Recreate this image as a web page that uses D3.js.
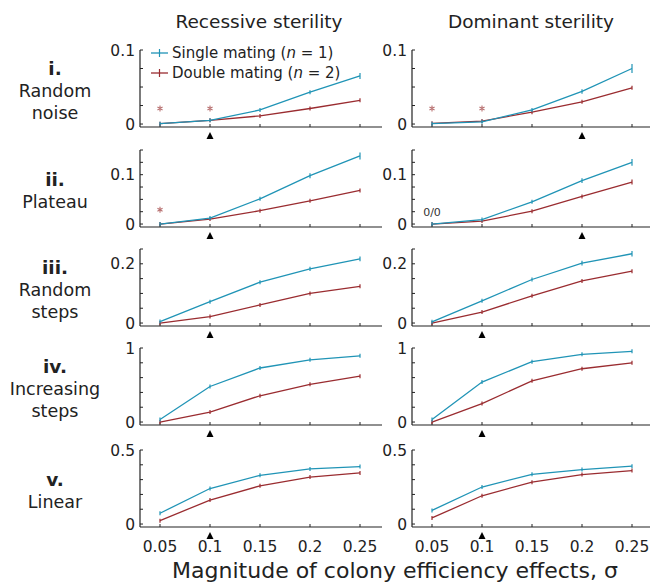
<!DOCTYPE html>
<html>
<head>
<meta charset="utf-8">
<script src="https://cdn.jsdelivr.net/npm/d3@7"></script>
<style>
  html, body { margin: 0; padding: 0; background: #fff; }
  svg { display: block; font-family: "DejaVu Sans", sans-serif; }
</style>
</head>
<body>
<svg id="chart" width="650" height="582"></svg>
<script>
// x values (magnitude of colony efficiency effects)
const sigma = [0.05, 0.1, 0.15, 0.2, 0.25]
const xTickLabels = ['0.05', '0.1', '0.15', '0.2', '0.25']

const colTitles = ['Recessive sterility', 'Dominant sterility']
const rowNumerals = ['i.', 'ii.', 'iii.', 'iv.', 'v.']
const rowNames = [['Random', 'noise'], ['Plateau'], ['Random', 'steps'], ['Increasing', 'steps'], ['Linear']]

// y axes per row
const yMax = [0.1, 0.15, 0.25, 1, 0.5]
const yStep = [0.025, 0.025, 0.05, 0.2, 0.1]
const yLabelled = [[0, 0.1], [0, 0.1], [0, 0.2], [0, 1], [0, 0.5]]

// recessive sterility (left column), one array per row
const singleRecessive = [
  [0.0005, 0.005, 0.019, 0.043, 0.065],
  [0.0, 0.012, 0.051, 0.098, 0.138],
  [0.005, 0.072, 0.138, 0.183, 0.217],
  [0.035, 0.48, 0.73, 0.84, 0.895],
  [0.073, 0.24, 0.329, 0.372, 0.388]
]
const doubleRecessive = [
  [0.0005, 0.005, 0.011, 0.021, 0.032],
  [0.0, 0.010, 0.027, 0.047, 0.068],
  [0.0, 0.022, 0.061, 0.1, 0.124],
  [0.0, 0.135, 0.355, 0.51, 0.62],
  [0.023, 0.162, 0.258, 0.317, 0.345]
]
const singleRecessiveErr = [
  [0.0004, 0.0008, 0.0015, 0.002, 0.004],
  [0.0004, 0.001, 0.003, 0.005, 0.007],
  [0.002, 0.004, 0.006, 0.007, 0.008],
  [0.005, 0.008, 0.008, 0.008, 0.008],
  [0.004, 0.006, 0.008, 0.008, 0.009]
]
const doubleRecessiveErr = [
  [0.0003, 0.0004, 0.0007, 0.001, 0.0012],
  [0.0003, 0.001, 0.0015, 0.002, 0.003],
  [0.001, 0.002, 0.003, 0.004, 0.005],
  [0.004, 0.006, 0.008, 0.008, 0.008],
  [0.003, 0.005, 0.006, 0.007, 0.008]
]

// dominant sterility (right column)
const singleDominant = [
  [0.0005, 0.003, 0.019, 0.044, 0.075],
  [0.0, 0.009, 0.045, 0.088, 0.125],
  [0.004, 0.075, 0.147, 0.202, 0.234],
  [0.035, 0.54, 0.815, 0.915, 0.955],
  [0.092, 0.25, 0.336, 0.368, 0.391]
]
const doubleDominant = [
  [0.001, 0.004, 0.016, 0.030, 0.049],
  [0.0, 0.006, 0.026, 0.056, 0.085],
  [0.0, 0.037, 0.092, 0.142, 0.175],
  [0.0, 0.25, 0.556, 0.72, 0.80],
  [0.041, 0.191, 0.283, 0.334, 0.361]
]
const singleDominantErr = [
  [0.0004, 0.0008, 0.002, 0.003, 0.006],
  [0.0004, 0.001, 0.003, 0.005, 0.007],
  [0.002, 0.004, 0.007, 0.008, 0.009],
  [0.005, 0.008, 0.008, 0.008, 0.008],
  [0.004, 0.006, 0.008, 0.008, 0.009]
]
const doubleDominantErr = [
  [0.0003, 0.0004, 0.001, 0.0015, 0.002],
  [0.0003, 0.001, 0.002, 0.003, 0.005],
  [0.001, 0.003, 0.004, 0.005, 0.006],
  [0.004, 0.006, 0.008, 0.008, 0.008],
  [0.003, 0.005, 0.006, 0.007, 0.008]
]

// arrowhead under the x axis (per row), per column
const arrowRecessive = [0.1, 0.1, 0.1, 0.1, 0.1]
const arrowDominant = [0.2, 0.2, 0.1, 0.1, 0.1]

// significance marks: [column, row, sigma, y position in data units]
const starMarks = [[0, 0, 0.05, 0.021], [0, 0, 0.1, 0.021], [1, 0, 0.05, 0.021], [1, 0, 0.1, 0.021], [0, 1, 0.05, 0.029]]
const zeroMarks = [[1, 1, 0.05, 0.025]]

const legendLabels = ['Single mating', 'Double mating']
const legendN = ['1', '2']

// ---- layout
const BLUE = '#2094b6'
const RED = '#9a2c30'
const STAR = '#b87070'
const INK = '#222'
const rowTop = [50, 150, 249, 348, 450]
const panelH = 77
const colRange = [[140, 380], [412, 652]]
const colAxisEnd = [382, 660]
const xDomain = [0.03, 0.27]

const svg = d3.select('#chart')

const columns = [
  { single: singleRecessive, double: doubleRecessive, sErr: singleRecessiveErr, dErr: doubleRecessiveErr, arrow: arrowRecessive },
  { single: singleDominant, double: doubleDominant, sErr: singleDominantErr, dErr: doubleDominantErr, arrow: arrowDominant }
]

const star = d3.symbol(d3.symbolAsterisk, 24)

columns.forEach((col, c) => {
  const x = d3.scaleLinear().domain(xDomain).range(colRange[c])

  // column title
  svg.append('text')
    .attr('x', x(0.15) - 1)
    .attr('y', 28)
    .attr('text-anchor', 'middle')
    .style('font-size', '18.5px')
    .style('fill', INK)
    .text(colTitles[c])

  rowNumerals.forEach((num, r) => {
    const y = d3.scaleLinear()
      .domain([-0.04 * yMax[r], yMax[r]])
      .range([rowTop[r] + panelH, rowTop[r]])
    const g = svg.append('g')
    const base = y.range()[0]

    // y axis line + inward ticks
    g.append('line')
      .attr('x1', colRange[c][0]).attr('x2', colRange[c][0])
      .attr('y1', y(yMax[r])).attr('y2', base)
      .attr('stroke', INK).attr('stroke-width', 1.2)
    const yt = d3.range(0, yMax[r] + yStep[r] / 2, yStep[r])
    g.selectAll('line.ytick').data(yt).enter().append('line')
      .attr('class', 'ytick')
      .attr('x1', colRange[c][0]).attr('x2', colRange[c][0] + 3)
      .attr('y1', (d) => y(d)).attr('y2', (d) => y(d))
      .attr('stroke', INK).attr('stroke-width', 1)
    g.selectAll('text.ylab').data(yLabelled[r]).enter().append('text')
      .attr('class', 'ylab')
      .attr('x', colRange[c][0] - 5)
      .attr('y', (d) => y(d))
      .attr('dy', '0.36em')
      .attr('text-anchor', 'end')
      .style('font-size', '15.5px')
      .style('fill', INK)
      .text((d) => d3.format('~g')(d))

    // x axis line + inward ticks
    g.append('line')
      .attr('x1', colRange[c][0]).attr('x2', colAxisEnd[c])
      .attr('y1', base).attr('y2', base)
      .attr('stroke', INK).attr('stroke-width', 1.2)
    g.selectAll('line.xtick').data(sigma).enter().append('line')
      .attr('class', 'xtick')
      .attr('x1', (d) => x(d)).attr('x2', (d) => x(d))
      .attr('y1', base).attr('y2', base - 3)
      .attr('stroke', INK).attr('stroke-width', 1)

    // arrowhead
    const ax = x(col.arrow[r])
    g.append('path')
      .attr('d', `M${ax},${base + 5} L${ax + 3.5},${base + 12} L${ax - 3.5},${base + 12} Z`)
      .attr('fill', '#000')

    // bottom row tick labels
    if (r === rowNumerals.length - 1) {
      g.selectAll('text.xlab').data(sigma).enter().append('text')
        .attr('class', 'xlab')
        .attr('x', (d) => x(d))
        .attr('y', base + 25)
        .attr('text-anchor', 'middle')
        .style('font-size', '15.5px')
        .style('fill', INK)
        .text((d, i) => xTickLabels[i])
    }

    const line = d3.line().x((d, i) => x(sigma[i])).y((d) => y(d))
    const series = [
      { vals: col.double[r], err: col.dErr[r], color: RED },
      { vals: col.single[r], err: col.sErr[r], color: BLUE }
    ]
    series.forEach((s) => {
      g.append('path')
        .datum(s.vals)
        .attr('d', line)
        .attr('fill', 'none')
        .attr('stroke', s.color)
        .attr('stroke-width', 1.3)
      g.selectAll(null).data(s.vals).enter().append('line')
        .attr('x1', (d, i) => x(sigma[i])).attr('x2', (d, i) => x(sigma[i]))
        .attr('y1', (d, i) => Math.min(y(d + s.err[i]), y(d) - 2))
        .attr('y2', (d, i) => Math.max(y(d - s.err[i]), y(d) + 2))
        .attr('stroke', s.color).attr('stroke-width', 1.2)
    })

    // annotations
    starMarks.filter((m) => m[0] === c && m[1] === r).forEach((m) => {
      g.append('path')
        .attr('d', star)
        .attr('transform', `translate(${x(m[2])},${y(m[3])})`)
        .attr('fill', 'none')
        .attr('stroke', STAR)
        .attr('stroke-width', 1.1)
    })
    zeroMarks.filter((m) => m[0] === c && m[1] === r).forEach((m) => {
      g.append('text')
        .attr('x', x(m[2])).attr('y', y(m[3]))
        .attr('dy', '0.35em')
        .attr('text-anchor', 'middle')
        .style('font-size', '11px')
        .style('fill', '#333')
        .text('0/0')
    })

    // row labels (once, left side)
    if (c === 0) {
      const lines = [num].concat(rowNames[r])
      const mid = rowTop[r] + panelH / 2 + 2
      lines.forEach((t, k) => {
        svg.append('text')
          .attr('x', 55)
          .attr('y', mid + (k - (lines.length - 1) / 2) * 22)
          .attr('dy', '0.35em')
          .attr('text-anchor', 'middle')
          .style('font-size', k === 0 ? '18.5px' : '17.5px')
          .style('font-weight', k === 0 ? 700 : 400)
          .style('fill', INK)
          .text(t)
      })
    }
  })
})

// legend, inside the first panel
const legend = svg.append('g').attr('transform', 'translate(151,53)')
legendLabels.forEach((lab, i) => {
  const color = i === 0 ? BLUE : RED
  const ly = i * 20
  legend.append('line')
    .attr('x1', 0).attr('x2', 17).attr('y1', ly).attr('y2', ly)
    .attr('stroke', color).attr('stroke-width', 1.3)
  legend.append('line')
    .attr('x1', 8.5).attr('x2', 8.5).attr('y1', ly - 4).attr('y2', ly + 4)
    .attr('stroke', color).attr('stroke-width', 1.2)
  const t = legend.append('text')
    .attr('x', 21).attr('y', ly).attr('dy', '0.36em')
    .style('font-size', '15px').style('fill', INK)
  t.append('tspan').text(lab + ' (')
  t.append('tspan').style('font-style', 'italic').text('n')
  t.append('tspan').text(' = ' + legendN[i] + ')')
})

// x axis title
svg.append('text')
  .attr('x', 395)
  .attr('y', 578)
  .attr('text-anchor', 'middle')
  .style('font-size', '22px')
  .style('fill', INK)
  .text('Magnitude of colony efficiency effects, σ')
</script>
</body>
</html>
